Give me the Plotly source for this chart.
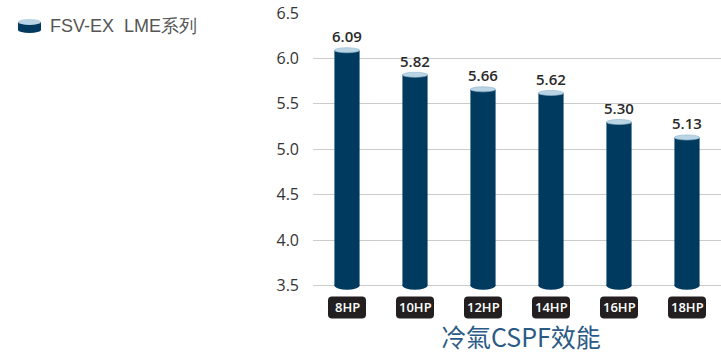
import plotly.graph_objects as go

# CSPF cooling efficiency by capacity
categories = ["8HP", "10HP", "12HP", "14HP", "16HP", "18HP"]
cspf = [6.09, 5.82, 5.66, 5.62, 5.30, 5.13]
series_name = "FSV-EX\u00a0 LME系列"
axis_title = "冷氣CSPF效能"
y_ticks = [3.5, 4.0, 4.5, 5.0, 5.5, 6.0, 6.5]

NAVY = "#003a5e"
CAP = "#b9d4e4"
BASE = 3.5
BAR_W = 0.37           # bar width in category units
CAP_H = 0.028          # half-height of the cylinder top (data units)
FOOT_H = 0.045         # half-height of the rounded bottom

W, H = 721, 353
L, R, T, B = 313, 0, 13, 61.5
plot_w = W - L - R
plot_h = H - T - B

def px_to_paper_x(px):
    return (px - L) / plot_w

def px_to_paper_y(py):
    return (H - B - py) / plot_h

fig = go.Figure()

fig.add_trace(go.Bar(
    x=list(range(len(categories))),
    y=[v - BASE for v in cspf],
    base=BASE,
    width=BAR_W,
    marker=dict(color=NAVY, line=dict(width=0)),
    name=series_name,
    textposition="none",
    hoverinfo="skip",
    showlegend=False,
))

shapes = []
annotations = []

for i, (cat, v) in enumerate(zip(categories, cspf)):
    # rounded foot of the cylinder
    shapes.append(dict(type="circle", xref="x", yref="y",
                       x0=i - BAR_W / 2, x1=i + BAR_W / 2,
                       y0=BASE - FOOT_H, y1=BASE + FOOT_H,
                       fillcolor=NAVY, line=dict(width=0), layer="above"))
    # lit top of the cylinder
    shapes.append(dict(type="circle", xref="x", yref="y",
                       x0=i - BAR_W / 2, x1=i + BAR_W / 2,
                       y0=v - CAP_H, y1=v + CAP_H,
                       fillcolor=CAP, line=dict(width=0.6, color="#8fb4cb"),
                       layer="above"))
    # value label
    annotations.append(dict(x=i, y=v, xref="x", yref="y", text=f"{v:.2f}",
                            showarrow=False, yanchor="bottom", yshift=2,
                            font=dict(family="Open Sans", size=15, color="#2a2a2a",
                                      weight=600)))
    # dark rounded tag under each bar
    hw, hh, r = 19, 11, 4
    path = (f"M {-hw + r},{-hh} L {hw - r},{-hh} Q {hw},{-hh} {hw},{-hh + r} "
            f"L {hw},{hh - r} Q {hw},{hh} {hw - r},{hh} L {-hw + r},{hh} "
            f"Q {-hw},{hh} {-hw},{hh - r} L {-hw},{-hh + r} Q {-hw},{-hh} {-hw + r},{-hh} Z")
    shapes.append(dict(type="path", xref="x", yref="paper",
                       xsizemode="pixel", ysizemode="pixel",
                       xanchor=i, yanchor=px_to_paper_y(308),
                       path=path, fillcolor="#231f20", line=dict(width=0)))
    annotations.append(dict(x=i, y=px_to_paper_y(308), xref="x", yref="paper",
                            text=cat, showarrow=False, yanchor="middle",
                            font=dict(family="Open Sans", size=13, color="#ffffff",
                                      weight=600)))

# axis title
annotations.append(dict(x=px_to_paper_x(521), y=px_to_paper_y(337), xref="paper", yref="paper",
                        text=axis_title, showarrow=False, yanchor="middle",
                        font=dict(family="Noto Sans CJK TC", size=25, color="#2b5b85")))

# legend: small cylinder icon plus series name
ix0, ix1 = px_to_paper_x(18), px_to_paper_x(41)
shapes.append(dict(type="rect", xref="paper", yref="paper",
                   x0=ix0, x1=ix1, y0=px_to_paper_y(30), y1=px_to_paper_y(22),
                   fillcolor=NAVY, line=dict(width=0)))
shapes.append(dict(type="circle", xref="paper", yref="paper",
                   x0=ix0, x1=ix1, y0=px_to_paper_y(33), y1=px_to_paper_y(27),
                   fillcolor=NAVY, line=dict(width=0)))
shapes.append(dict(type="circle", xref="paper", yref="paper",
                   x0=ix0, x1=ix1, y0=px_to_paper_y(25), y1=px_to_paper_y(19),
                   fillcolor=CAP, line=dict(width=0)))
annotations.append(dict(x=px_to_paper_x(48), y=px_to_paper_y(26), xref="paper", yref="paper",
                        text=series_name, showarrow=False, xanchor="left", yanchor="middle",
                        font=dict(family="Liberation Sans", size=18, color="#555555")))

fig.update_layout(
    width=W, height=H,
    margin=dict(l=L, r=R, t=T, b=B, pad=0),
    paper_bgcolor="#ffffff", plot_bgcolor="#ffffff",
    shapes=shapes, annotations=annotations,
    showlegend=False,
    xaxis=dict(range=[-0.5, len(categories) - 0.5], showticklabels=False,
               showgrid=False, zeroline=False, showline=False, fixedrange=True),
    yaxis=dict(range=[3.44, 6.5], tickvals=y_ticks,
               ticktext=[f"{t:.1f}" for t in y_ticks],
               showgrid=True, gridcolor="#cccccc", gridwidth=1,
               zeroline=False, showline=False, ticks="", ticklabelstandoff=13,
               tickfont=dict(family="Open Sans", size=16, color="#333333"),
               fixedrange=True),
)

fig.write_html("out.html")
